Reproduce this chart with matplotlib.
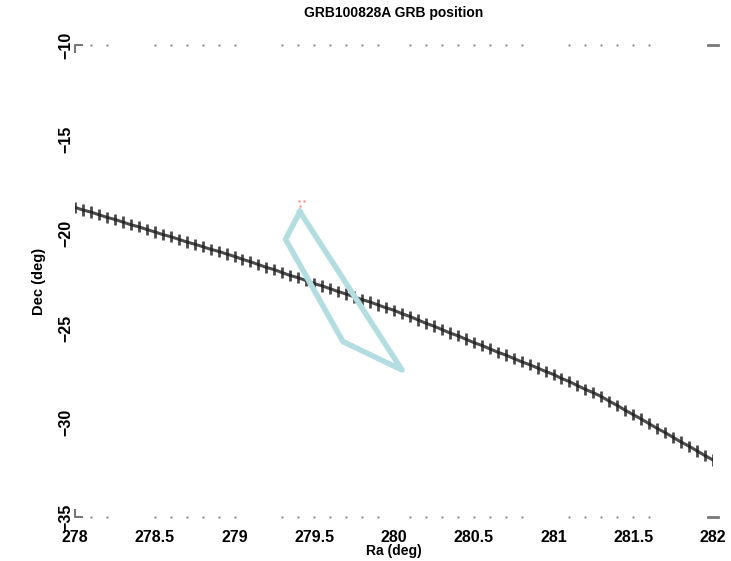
import matplotlib
matplotlib.use('Agg')
import matplotlib.pyplot as plt

# track positions (Ra, Dec)
ra = [278.00, 278.05, 278.10, 278.15, 278.20, 278.25, 278.30, 278.35, 278.40, 278.45,
      278.50, 278.55, 278.60, 278.65, 278.70, 278.75, 278.80, 278.85, 278.90, 278.95,
      279.00, 279.05, 279.10, 279.15, 279.20, 279.25, 279.30, 279.35, 279.40, 279.45,
      279.50, 279.55, 279.60, 279.65, 279.70, 279.75, 279.80, 279.85, 279.90, 279.95,
      280.00, 280.05, 280.10, 280.15, 280.20, 280.25, 280.30, 280.35, 280.40, 280.45,
      280.50, 280.55, 280.60, 280.65, 280.70, 280.75, 280.80, 280.85, 280.90, 280.95,
      281.00, 281.05, 281.10, 281.15, 281.20, 281.25, 281.30, 281.35, 281.40, 281.45,
      281.50, 281.55, 281.60, 281.65, 281.70, 281.75, 281.80, 281.85, 281.90, 281.95,
      282.00]
dec = [-18.60, -18.74, -18.85, -18.99, -19.13, -19.24, -19.38, -19.52, -19.63, -19.77,
       -19.90, -20.04, -20.15, -20.29, -20.43, -20.55, -20.68, -20.82, -20.93, -21.07,
       -21.20, -21.35, -21.48, -21.63, -21.78, -21.90, -22.06, -22.21, -22.33, -22.48,
       -22.64, -22.76, -22.91, -23.06, -23.19, -23.34, -23.49, -23.61, -23.77, -23.92,
       -24.05, -24.23, -24.38, -24.56, -24.74, -24.89, -25.07, -25.25, -25.40, -25.58,
       -25.76, -25.91, -26.09, -26.27, -26.42, -26.60, -26.78, -26.93, -27.11, -27.29,
       -27.45, -27.66, -27.83, -28.04, -28.24, -28.42, -28.62, -28.87, -29.09, -29.35,
       -29.58, -29.81, -30.06, -30.31, -30.53, -30.78, -31.03, -31.25, -31.50, -31.75,
       -31.98]

# error box of the GRB position (closed)
box_ra = [279.41, 279.32, 279.68, 280.05, 279.41]
box_dec = [-18.83, -20.29, -25.71, -27.21, -18.83]

# red points near the box top
red_ra = [279.405, 279.435, 279.41]
red_dec = [-18.25, -18.25, -18.53]

xticks = [278, 278.5, 279, 279.5, 280, 280.5, 281, 281.5, 282]
xticklabels = ['278', '278.5', '279', '279.5', '280', '280.5', '281', '281.5', '282']
yticks = [-35, -30, -25, -20, -15, -10]
yticklabels = ['\u221235', '\u221230', '\u221225', '\u221220', '\u221215', '\u221210']
minor_x = [278.1, 278.2, 278.5, 278.6, 278.7, 278.8, 278.9, 279.0, 279.3, 279.4, 279.5,
           279.6, 279.7, 279.8, 279.9, 280.1, 280.2, 280.3, 280.4, 280.5, 280.6, 280.7,
           280.8, 281.1, 281.2, 281.3, 281.4, 281.5, 281.6]

plt.rcParams['font.family'] = ['Liberation Sans', 'DejaVu Sans']
plt.rcParams['font.weight'] = 'bold'

fig = plt.figure(figsize=(7.31, 5.61), dpi=100)
ax = fig.add_axes([75 / 731, 44 / 561, 638 / 731, 472 / 561])

ax.errorbar(ra, dec, yerr=0.3, color='#1e1e1e', lw=2.2, elinewidth=2.0,
            capsize=0, alpha=0.8, zorder=2)
ax.plot(box_ra, box_dec, color='#b4dde1', lw=4, solid_joinstyle='round', zorder=3)
ax.plot(red_ra, red_dec, 's', color='#ff7f6e', ms=1.8, mec='none', zorder=4)

ax.set_xlim(278, 282)
ax.set_ylim(-35, -10)
for s in ax.spines.values():
    s.set_visible(False)

ax.set_xticks(xticks)
ax.set_xticklabels(xticklabels, fontsize=11.5, fontweight='bold')
ax.set_yticks(yticks)
ax.set_yticklabels(yticklabels, fontsize=11.5, fontweight='bold', rotation=90, va='center')
ax.tick_params(axis='x', length=0, pad=9)
ax.tick_params(axis='y', length=0, pad=1)

# dotted minor ticks along top and bottom
for yy in (-10, -35):
    ax.plot(minor_x, [yy] * len(minor_x), 's', color='#888888', ms=1.6, mec='none',
            clip_on=False)

# corner marks
gray = '#777777'
ax.plot([278.045, 278, 278], [-10, -10, -10.35], color=gray, lw=1.5, clip_on=False)
ax.plot([278.045, 278, 278], [-35, -35, -34.65], color=gray, lw=1.5, clip_on=False)
ax.plot([281.97, 282.03], [-10, -10], color=gray, lw=2, clip_on=False)
ax.plot([281.97, 282.03], [-35, -35], color=gray, lw=2, clip_on=False)

ax.set_title('GRB100828A GRB position', fontsize=10, fontweight='bold', pad=20)
ax.set_xlabel('Ra (deg)', fontsize=10, fontweight='bold', labelpad=0)
ax.set_ylabel('Dec (deg)', fontsize=10.5, fontweight='bold', labelpad=9)

fig.savefig('out.png', dpi=100)
